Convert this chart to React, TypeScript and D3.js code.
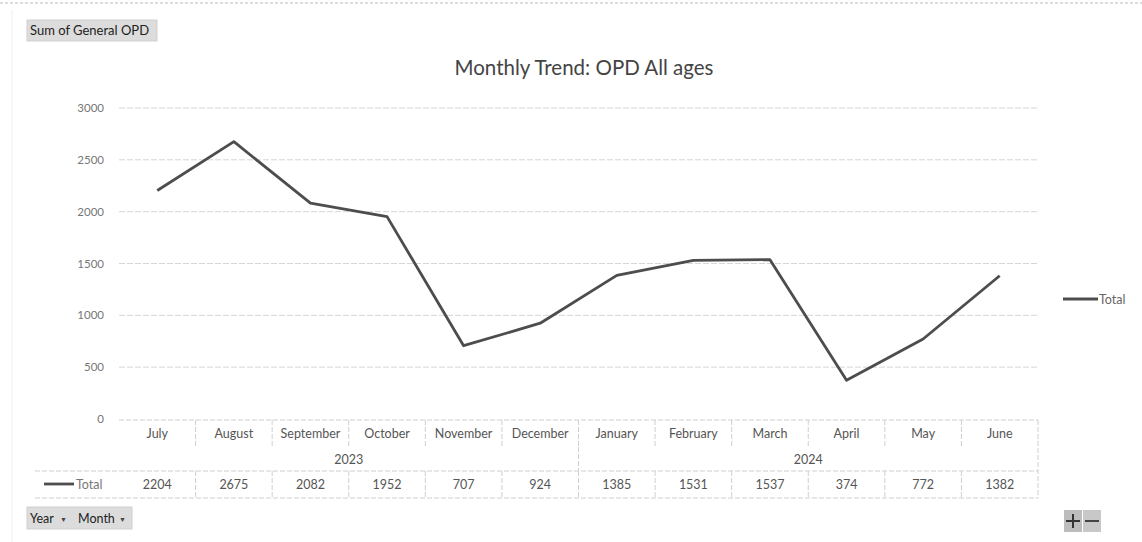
import React from "react";
import * as d3 from "d3";

const months = ["July", "August", "September", "October", "November", "December", "January", "February", "March", "April", "May", "June"];
const years = ["2023", "2023", "2023", "2023", "2023", "2023", "2024", "2024", "2024", "2024", "2024", "2024"];
const totals = [2204, 2675, 2082, 1952, 707, 924, 1385, 1531, 1537, 374, 772, 1382];
const yTicks = [0, 500, 1000, 1500, 2000, 2500, 3000];
const seriesName = "Total";
const title = "Monthly Trend: OPD All ages";

const W = 1142;
const H = 542;
const FONT = "Lato, 'Liberation Sans', sans-serif";

export default function App() {
  const x = d3.scaleBand<number>().domain(months.map((_, i) => i)).range([119, 1038]).paddingInner(0).paddingOuter(0);
  const y = d3.scaleLinear().domain([0, 3000]).range([419, 108]);
  const cx = (i: number) => (x(i) as number) + x.bandwidth() / 2;
  const line = d3.line<number>().x((_, i) => cx(i)).y((d) => y(d)).curve(d3.curveLinear);

  const tableTop = 420;
  const monthRowBottom = 447;
  const yearRowBottom = 471;
  const dataRowBottom = 498;
  const left = x.range()[0];
  const right = x.range()[1];

  const yearGroups = d3.groups(months.map((m, i) => ({ m, i, yr: years[i] })), (d) => d.yr);
  const gridColor = "#d6d6d6";
  const borderColor = "#cfcfcf";
  const textColor = "#555";

  return (
    <div style={{ position: "fixed", left: 0, top: 0, width: W, height: H, background: "#fff" }}>
      <svg width={W} height={H} style={{ display: "block", fontFamily: FONT }}>
        <rect x={0} y={0} width={W} height={H} fill="#fff" />
        {/* faint page frame */}
        <line x1={0} x2={W} y1={3} y2={3} stroke="#bbb" strokeDasharray="3 2" strokeWidth={1} />
        <line x1={12} x2={12} y1={10} y2={H} stroke="#eee" strokeWidth={1} />

        {/* field button top */}
        <rect x={27} y={20} width={130} height={21} fill="#dcdcdc" stroke="#cfcfcf" />
        <text x={30} y={35} fontSize={13} fill="#222">Sum of General OPD</text>

        {/* title */}
        <text x={584} y={75} fontSize={20.5} fill="#444" textAnchor="middle">{title}</text>

        {/* gridlines */}
        {yTicks.filter((t) => t > 0).map((t) => (
          <line key={t} x1={left} x2={right} y1={y(t)} y2={y(t)} stroke={gridColor} strokeWidth={1} strokeDasharray="6 2" />
        ))}

        {/* y ticks */}
        {yTicks.map((t) => (
          <text key={t} x={104} y={y(t) + 4} fontSize={11.5} fill="#777" textAnchor="end">{t}</text>
        ))}

        {/* line */}
        <path d={line(totals) || ""} fill="none" stroke="#4d4d4d" strokeWidth={2.8} strokeLinejoin="round" />

        {/* data table */}
        <g stroke={borderColor} strokeWidth={1} strokeDasharray="5 2">
          <line x1={left} x2={right} y1={tableTop} y2={tableTop} />
          <line x1={35} x2={right} y1={yearRowBottom} y2={yearRowBottom} />
          <line x1={35} x2={right} y1={dataRowBottom} y2={dataRowBottom} />
          <line x1={right} x2={right} y1={tableTop} y2={dataRowBottom} />
          {months.map((_, i) => i > 0 ? (
            <line key={"mv" + i} x1={x(i) as number} x2={x(i) as number} y1={tableTop} y2={monthRowBottom} />
          ) : null)}
          {months.map((_, i) => i > 0 ? (
            <line key={"dv" + i} x1={x(i) as number} x2={x(i) as number} y1={yearRowBottom} y2={dataRowBottom} />
          ) : null)}
          {yearGroups.slice(1).map(([yr, items]) => (
            <line key={"yv" + yr} x1={x(items[0].i) as number} x2={x(items[0].i) as number} y1={monthRowBottom} y2={yearRowBottom} />
          ))}
        </g>
        {months.map((m, i) => (
          <text key={m} x={cx(i)} y={438} fontSize={12.5} fill={textColor} textAnchor="middle">{m}</text>
        ))}
        {yearGroups.map(([yr, items]) => {
          const a = x(items[0].i) as number;
          const b = (x(items[items.length - 1].i) as number) + x.bandwidth();
          return (
            <text key={yr} x={(a + b) / 2} y={464} fontSize={12.5} fill={textColor} textAnchor="middle">{yr}</text>
          );
        })}
        {totals.map((v, i) => (
          <text key={"v" + i} x={cx(i)} y={489} fontSize={12.5} fill={textColor} textAnchor="middle">{v}</text>
        ))}
        {/* table legend key */}
        <line x1={44} x2={74} y1={484} y2={484} stroke="#4d4d4d" strokeWidth={2.8} />
        <text x={76} y={489} fontSize={12.5} fill="#777">{seriesName}</text>

        {/* right legend */}
        <line x1={1063} x2={1098} y1={299} y2={299} stroke="#4d4d4d" strokeWidth={2.8} />
        <text x={1099} y={304} fontSize={12.5} fill="#666">{seriesName}</text>

        {/* bottom field buttons */}
        <rect x={27} y={507} width={105} height={22} fill="#dcdcdc" stroke="#cfcfcf" />
        <text x={30} y={523} fontSize={12.5} fill="#222">Year</text>
        <text x={60} y={522} fontSize={7} fill="#444">▼</text>
        <text x={78} y={523} fontSize={12.5} fill="#222">Month</text>
        <text x={119} y={522} fontSize={7} fill="#444">▼</text>

        {/* +/- buttons */}
        <rect x={1064} y={510} width={18} height={22} fill="#bdbdbd" />
        <rect x={1083} y={510} width={18} height={22} fill="#c8c8c8" />
        <line x1={1066} x2={1080} y1={521} y2={521} stroke="#333" strokeWidth={2} />
        <line x1={1073} x2={1073} y1={514} y2={528} stroke="#333" strokeWidth={2} />
        <line x1={1085} x2={1099} y1={521} y2={521} stroke="#444" strokeWidth={2} />
      </svg>
    </div>
  );
}
